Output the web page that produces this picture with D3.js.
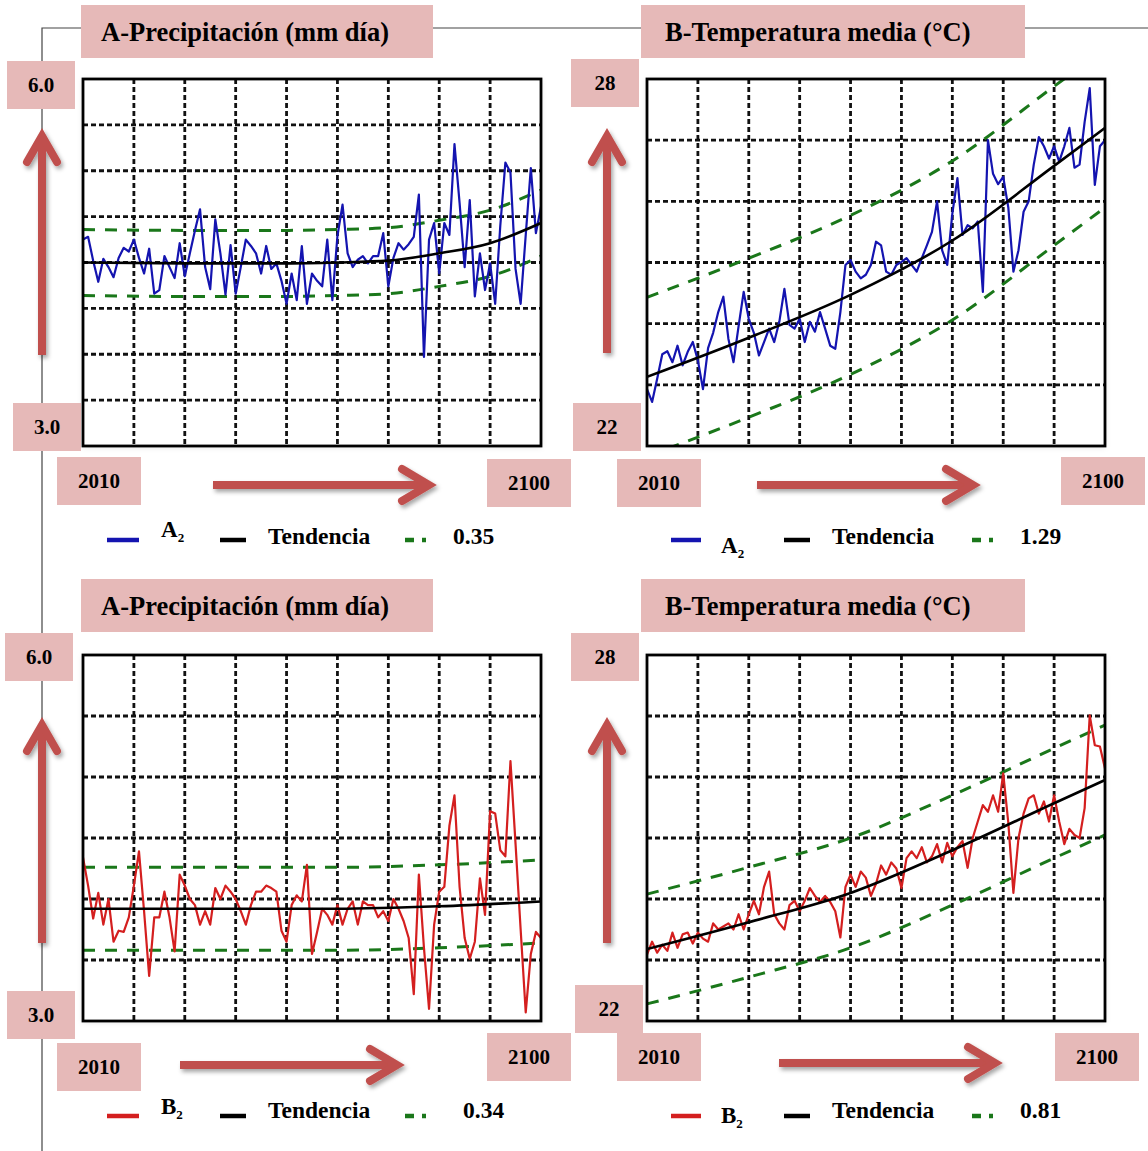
<!DOCTYPE html>
<html>
<head>
<meta charset="utf-8">
<script src="https://cdn.jsdelivr.net/npm/d3@7"></script>
<style>
body { margin: 0; background: #fff; }
svg text { font-family: "Liberation Serif", "Times New Roman", serif; font-weight: bold; fill: #000; }
</style>
</head>
<body>
<svg width="1148" height="1151"></svg>
<script>
const svg = d3.select('svg')
const years = d3.range(2010, 2101)

// annual series (2010..2100)
const precipA2 = [4.25,4.28,4.02,3.79,4.04,3.95,3.84,4.05,4.16,4.12,
	4.25,4.05,3.88,4.15,3.66,3.70,4.07,3.95,3.83,4.21,
	3.85,4.10,4.35,4.58,3.95,3.71,4.47,4.10,3.65,4.19,
	3.66,3.95,4.25,4.18,4.10,3.88,4.18,3.93,3.99,3.80,
	3.55,3.88,3.59,4.18,3.55,3.88,3.80,3.74,4.25,3.59,
	4.29,4.63,4.10,3.95,4.03,4.07,3.99,4.07,4.07,4.32,
	3.74,4.05,4.21,4.14,4.20,4.28,4.74,2.97,4.25,4.43,
	3.88,4.43,4.30,5.29,4.65,3.95,4.68,3.63,4.10,3.70,
	3.99,3.55,4.40,5.09,4.98,3.93,3.55,4.30,5.03,4.32,
	4.61]
const tempA2 = [22.93,22.72,23.10,23.50,23.55,23.37,23.64,23.32,23.54,23.70,
	23.40,22.93,23.60,23.85,24.19,24.44,23.75,23.37,23.96,24.52,
	24.08,23.85,23.48,23.70,23.92,23.70,24.03,24.57,23.98,23.92,
	24.08,23.70,24.03,23.87,24.19,23.92,23.64,23.59,24.19,24.96,
	25.04,24.85,24.74,24.80,24.96,25.34,25.28,24.85,24.80,24.96,
	25.01,25.07,24.96,24.85,25.07,25.28,25.50,26.00,25.20,24.96,
	25.80,26.38,25.45,25.61,25.56,25.67,24.52,27.00,26.45,26.28,
	26.40,25.90,24.85,25.20,25.83,26.00,26.60,27.05,26.90,26.70,
	26.90,26.65,26.90,27.20,26.55,26.60,27.30,27.85,26.27,26.90,
	27.00]
const precipB2 = [4.34,4.11,3.84,4.05,3.79,4.00,3.65,3.74,3.73,3.85,
	4.11,4.39,3.90,3.37,3.85,3.85,4.06,3.85,3.57,4.20,
	4.11,4.00,3.95,3.79,3.90,3.79,4.09,4.00,4.11,4.06,
	4.00,3.90,3.79,3.95,4.06,4.06,4.11,4.09,4.06,3.74,
	3.65,3.95,4.03,3.98,4.28,3.55,3.73,3.92,3.87,3.79,
	3.95,3.79,3.92,3.98,3.79,3.98,3.95,3.95,3.85,3.90,
	3.82,4.00,3.92,3.82,3.68,3.22,4.20,3.60,3.10,3.79,
	4.06,4.10,4.60,4.85,4.10,3.68,3.51,3.65,4.17,3.87,
	4.72,4.70,4.40,4.35,5.13,4.45,3.75,3.07,3.55,3.73,
	3.68]
const tempB2 = [23.09,23.30,23.12,23.25,23.15,23.45,23.20,23.42,23.45,23.27,
	23.45,23.35,23.30,23.60,23.50,23.55,23.60,23.50,23.75,23.50,
	23.75,23.97,23.75,24.20,24.45,23.75,23.60,23.50,23.90,23.97,
	23.80,23.97,24.18,24.05,23.95,24.05,23.95,23.80,23.37,24.20,
	24.40,24.20,24.45,24.35,24.05,24.25,24.55,24.40,24.60,24.50,
	24.18,24.67,24.78,24.67,24.85,24.60,24.70,24.90,24.60,24.92,
	24.70,24.85,24.95,24.51,25.00,25.27,25.54,25.43,25.70,25.43,
	26.06,25.25,24.10,25.00,25.40,25.65,25.70,25.40,25.60,25.27,
	25.70,25.27,24.90,25.15,25.05,25.00,25.49,27.01,26.52,26.50,
	26.14]

// trend curves (Tendencia) sampled at a few years
const trendYearsPrecipA2 = [2010, 2030, 2050, 2060, 2070, 2080, 2090, 2100]
const trendPrecipA2 = [4.00, 3.99, 3.99, 4.00, 4.02, 4.10, 4.21, 4.43]
const trendYearsTempA2 = [2010, 2030, 2050, 2070, 2090, 2100]
const trendTempA2 = [23.13, 23.77, 24.47, 25.36, 26.58, 27.20]
const trendYearsPrecipB2 = [2010, 2060, 2080, 2100]
const trendPrecipB2 = [3.92, 3.92, 3.94, 3.98]
const trendYearsTempB2 = [2010, 2030, 2050, 2070, 2090, 2100]
const trendTempB2 = [23.18, 23.62, 24.10, 24.80, 25.57, 25.95]

// half width of the dashed green band
const bandWidths = [0.36, 1.30, 0.34, 0.90]
const bandLabels = ['0.35', '1.29', '0.34', '0.81']
const scenarioLabels = ['A', 'A', 'B', 'B']
const titles = ['A-Precipitación (mm día)', 'B-Temperatura media (°C)', 'A-Precipitación (mm día)', 'B-Temperatura media (°C)']
const precipTickLabels = ['6.0', '3.0']
const tempTickLabels = ['28', '22']
const yearLabels = ['2010', '2100']
const trendLabel = 'Tendencia'

const pink = '#e6b9b8'
const arrowRed = '#c0504d'
const gridGreen = '#1a771a'

const panels = [
	{ id: 'tl', series: precipA2, color: '#1414b0', yDomain: [2, 6], tYears: trendYearsPrecipA2, trend: trendPrecipA2, ticks: precipTickLabels,
		frame: [83, 79, 541, 446], title: [81, 5, 433, 58, 101, 41],
		topBox: [7, 61, 75, 109], botBox: [13, 403, 81, 451], startBox: [57, 457, 141, 505], endBox: [487, 459, 571, 507],
		vArrow: [42, 133, 355], hArrow: [485, 213, 432],
		legend: { s1: [107, 139, 540], l1: [161, 537], s2: [220, 246, 540], l2: [268, 544], s3: [405, 432, 540], l3: [453, 544] } },
	{ id: 'tr', series: tempA2, color: '#1414b0', yDomain: [22, 28], tYears: trendYearsTempA2, trend: trendTempA2, ticks: tempTickLabels,
		frame: [647, 79, 1105, 446], title: [641, 5, 1025, 58, 665, 41],
		topBox: [571, 59, 639, 107], botBox: [573, 403, 641, 451], startBox: [617, 459, 701, 507], endBox: [1061, 457, 1145, 505],
		vArrow: [607, 133, 353], hArrow: [485, 757, 976],
		legend: { s1: [671, 701, 540], l1: [721, 553], s2: [784, 810, 540], l2: [832, 544], s3: [972, 997, 540], l3: [1020, 544] } },
	{ id: 'bl', series: precipB2, color: '#d41f1f', yDomain: [3, 6], tYears: trendYearsPrecipB2, trend: trendPrecipB2, ticks: precipTickLabels,
		frame: [83, 655, 541, 1021], title: [81, 579, 433, 632, 101, 615],
		topBox: [5, 633, 73, 681], botBox: [7, 991, 75, 1039], startBox: [57, 1043, 141, 1091], endBox: [487, 1033, 571, 1081],
		vArrow: [42, 722, 943], hArrow: [1065, 180, 400],
		legend: { s1: [107, 139, 1116], l1: [161, 1114], s2: [220, 246, 1116], l2: [268, 1118], s3: [405, 443, 1116], l3: [463, 1118] } },
	{ id: 'br', series: tempB2, color: '#d41f1f', yDomain: [22, 28], tYears: trendYearsTempB2, trend: trendTempB2, ticks: tempTickLabels,
		frame: [647, 655, 1105, 1021], title: [641, 579, 1025, 632, 665, 615],
		topBox: [571, 633, 639, 681], botBox: [575, 985, 643, 1033], startBox: [617, 1033, 701, 1081], endBox: [1055, 1033, 1139, 1081],
		vArrow: [607, 722, 943], hArrow: [1063, 779, 998],
		legend: { s1: [671, 701, 1116], l1: [721, 1123], s2: [784, 810, 1116], l2: [832, 1118], s3: [972, 997, 1116], l3: [1020, 1118] } },
]

const defs = svg.append('defs')
defs.append('filter').attr('id', 'shadow')
	.attr('x', '-50%').attr('y', '-50%').attr('width', '200%').attr('height', '200%')
	.append('feDropShadow')
	.attr('dx', 2).attr('dy', 3).attr('stdDeviation', 2)
	.attr('flood-color', '#000').attr('flood-opacity', 0.35)
defs.append('filter').attr('id', 'glow')
	.attr('x', '-10%').attr('y', '-10%').attr('width', '120%').attr('height', '120%')
	.append('feDropShadow')
	.attr('dx', 0).attr('dy', 1).attr('stdDeviation', 3)
	.attr('flood-color', '#000').attr('flood-opacity', 0.12)

svg.append('rect').attr('width', 1148).attr('height', 1151).attr('fill', '#fff')

// thin connector lines behind everything
svg.append('path')
	.attr('d', 'M42,1151 V28 H1148')
	.attr('fill', 'none')
	.attr('stroke', '#444')
	.attr('stroke-width', 1.2)

const box = (b, text, size, xText, yText) => {
	svg.append('rect')
		.attr('x', b[0]).attr('y', b[1])
		.attr('width', b[2] - b[0]).attr('height', b[3] - b[1])
		.attr('fill', pink)
	svg.append('text')
		.attr('x', xText !== undefined ? xText : (b[0] + b[2]) / 2)
		.attr('y', yText !== undefined ? yText : (b[1] + b[3]) / 2 + size * 0.34)
		.attr('text-anchor', xText !== undefined ? 'start' : 'middle')
		.style('font-size', `${size}px`)
		.text(text)
}

const arrowV = ([x, top, bottom]) => {
	const g = svg.append('g').attr('filter', 'url(#shadow)')
		.attr('stroke', arrowRed).attr('fill', 'none').attr('stroke-width', 8)
	g.append('line').attr('x1', x).attr('x2', x).attr('y1', bottom).attr('y2', top + 4)
	g.append('path').attr('d', `M${x - 15},${top + 29} L${x},${top + 3} L${x + 15},${top + 29}`)
		.attr('stroke-linecap', 'round').attr('stroke-linejoin', 'miter')
}

const arrowH = ([y, left, right]) => {
	const g = svg.append('g').attr('filter', 'url(#shadow)')
		.attr('stroke', arrowRed).attr('fill', 'none').attr('stroke-width', 8)
	g.append('line').attr('x1', left).attr('x2', right - 4).attr('y1', y).attr('y2', y)
	g.append('path').attr('d', `M${right - 30},${y - 16} L${right - 3},${y} L${right - 30},${y + 16}`)
		.attr('stroke-linecap', 'round').attr('stroke-linejoin', 'miter')
}

const drawPanel = (p, i) => {
	const [x0, y0, x1, y1] = p.frame
	const x = d3.scaleLinear().domain([2010, 2100]).range([x0, x1])
	const y = d3.scaleLinear().domain(p.yDomain).range([y1, y0])

	// title
	const t = p.title
	box([t[0], t[1], t[2], t[3]], titles[i], 26.5, t[4], t[5])

	const g = svg.append('g')
	defs.append('clipPath').attr('id', `clip-${p.id}`)
		.append('rect').attr('x', x0).attr('y', y0).attr('width', x1 - x0).attr('height', y1 - y0)

	g.append('rect')
		.attr('x', x0).attr('y', y0).attr('width', x1 - x0).attr('height', y1 - y0)
		.attr('fill', '#fff').attr('filter', 'url(#glow)')

	// dashed grid
	const xt = x.ticks(9).filter(d => d > 2010 && d < 2100)
	const yt = y.ticks((p.yDomain[1] - p.yDomain[0]) * (p.yDomain[1] > 10 ? 1 : 2))
		.filter(d => d > p.yDomain[0] && d < p.yDomain[1])
	g.selectAll('.vgrid').data(xt).enter().append('line')
		.attr('x1', d => x(d)).attr('x2', d => x(d)).attr('y1', y0).attr('y2', y1)
		.attr('stroke', '#111').attr('stroke-width', 2.8).attr('stroke-dasharray', '5,3')
	g.selectAll('.hgrid').data(yt).enter().append('line')
		.attr('x1', x0).attr('x2', x1).attr('y1', d => y(d)).attr('y2', d => y(d))
		.attr('stroke', '#111').attr('stroke-width', 2.8).attr('stroke-dasharray', '5,3')

	const plot = g.append('g').attr('clip-path', `url(#clip-${p.id})`)
	const smooth = d3.line().x(d => x(d[0])).y(d => y(d[1])).curve(d3.curveMonotoneX)
	const straight = d3.line().x(d => x(d[0])).y(d => y(d[1]))

	;[1, -1].forEach(sign => {
		plot.append('path')
			.attr('d', smooth(p.tYears.map((yr, k) => [yr, p.trend[k] + sign * bandWidths[i]])))
			.attr('fill', 'none').attr('stroke', gridGreen)
			.attr('stroke-width', 3).attr('stroke-dasharray', '12,10')
	})

	plot.append('path')
		.attr('d', straight(years.map((yr, k) => [yr, p.series[k]])))
		.attr('fill', 'none').attr('stroke', p.color).attr('stroke-width', 2.2)
		.attr('stroke-linejoin', 'round')

	plot.append('path')
		.attr('d', smooth(p.tYears.map((yr, k) => [yr, p.trend[k]])))
		.attr('fill', 'none').attr('stroke', '#000').attr('stroke-width', 2.6)

	g.append('rect')
		.attr('x', x0).attr('y', y0).attr('width', x1 - x0).attr('height', y1 - y0)
		.attr('fill', 'none').attr('stroke', '#000').attr('stroke-width', 2.8)

	// value / year boxes
	box(p.topBox, p.ticks[0], 21)
	box(p.botBox, p.ticks[1], 21)
	box(p.startBox, yearLabels[0], 21)
	box(p.endBox, yearLabels[1], 21)

	arrowV(p.vArrow)
	arrowH(p.hArrow)

	// legend
	const L = p.legend
	const lg = svg.append('g')
	lg.append('line').attr('x1', L.s1[0]).attr('x2', L.s1[1]).attr('y1', L.s1[2]).attr('y2', L.s1[2])
		.attr('stroke', p.color).attr('stroke-width', 4.5)
	const lab = lg.append('text').attr('x', L.l1[0]).attr('y', L.l1[1]).style('font-size', '23px')
	lab.append('tspan').text(scenarioLabels[i])
	lab.append('tspan').attr('dy', 5).style('font-size', '13px').text('2')
	lg.append('line').attr('x1', L.s2[0]).attr('x2', L.s2[1]).attr('y1', L.s2[2]).attr('y2', L.s2[2])
		.attr('stroke', '#000').attr('stroke-width', 4.5)
	lg.append('text').attr('x', L.l2[0]).attr('y', L.l2[1]).style('font-size', '23.5px').text(trendLabel)
	lg.append('line').attr('x1', L.s3[0]).attr('x2', L.s3[1]).attr('y1', L.s3[2]).attr('y2', L.s3[2])
		.attr('stroke', gridGreen).attr('stroke-width', 4.5).attr('stroke-dasharray', '9,8,4,30')
	lg.append('text').attr('x', L.l3[0]).attr('y', L.l3[1]).style('font-size', '23.5px').text(bandLabels[i])
}

panels.forEach(drawPanel)
</script>
</body>
</html>
